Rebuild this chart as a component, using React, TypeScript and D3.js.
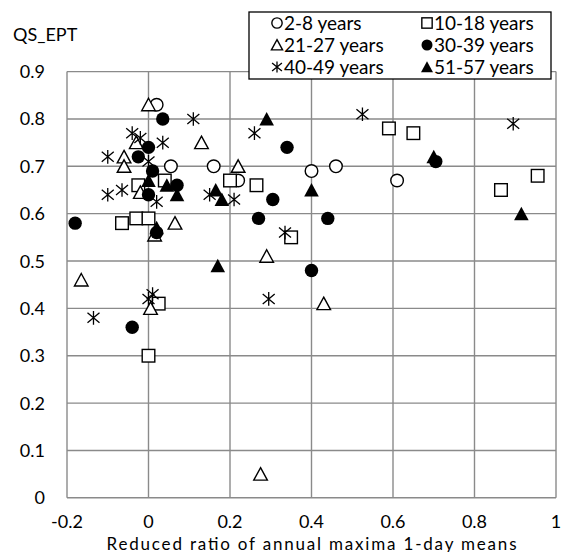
import React from 'react';
import * as d3 from 'd3';

const xTicks = [-0.2, 0, 0.2, 0.4, 0.6, 0.8, 1];
const xTickLabels = ['-0.2', '0', '0.2', '0.4', '0.6', '0.8', '1'];
const yTicks = [0, 0.1, 0.2, 0.3, 0.4, 0.5, 0.6, 0.7, 0.8, 0.9];
const yTickLabels = ['0', '0.1', '0.2', '0.3', '0.4', '0.5', '0.6', '0.7', '0.8', '0.9'];

const years2to8 = [
  [0.02, 0.83], [0.055, 0.70], [0.16, 0.70], [0.22, 0.67], [0.40, 0.69], [0.46, 0.70], [0.61, 0.67],
];
const years10to18 = [
  [-0.025, 0.66], [0.04, 0.67], [0.20, 0.67], [0.265, 0.66], [-0.065, 0.58], [-0.03, 0.59], [0.0, 0.59],
  [0.025, 0.41], [0.0, 0.30], [0.35, 0.55], [0.59, 0.78], [0.65, 0.77], [0.955, 0.68], [0.865, 0.65],
];
const years21to27 = [
  [0.0, 0.83], [-0.03, 0.75], [0.13, 0.75], [-0.06, 0.72], [-0.06, 0.70], [0.22, 0.70], [-0.02, 0.645],
  [0.015, 0.555], [0.065, 0.58], [-0.165, 0.46], [0.005, 0.40], [0.29, 0.51], [0.43, 0.41], [0.275, 0.05],
];
const years30to39 = [
  [0.035, 0.80], [0.0, 0.74], [-0.025, 0.72], [0.01, 0.69], [0.07, 0.66], [0.0, 0.64], [-0.18, 0.58],
  [0.02, 0.56], [-0.04, 0.36], [0.34, 0.74], [0.305, 0.63], [0.27, 0.59], [0.44, 0.59], [0.40, 0.48],
  [0.705, 0.71],
];
const years40to49 = [
  [0.11, 0.80], [-0.04, 0.77], [-0.02, 0.76], [0.035, 0.75], [-0.10, 0.72], [0.0, 0.71], [0.02, 0.625],
  [-0.10, 0.64], [-0.065, 0.65], [0.15, 0.64], [0.21, 0.63], [0.01, 0.43], [0.0, 0.42], [-0.135, 0.38],
  [0.26, 0.77], [0.525, 0.81], [0.335, 0.56], [0.295, 0.42], [0.895, 0.79],
];
const years51to57 = [
  [0.0, 0.67], [0.045, 0.66], [0.07, 0.64], [0.165, 0.65], [0.18, 0.63], [0.02, 0.57], [0.17, 0.49],
  [0.29, 0.80], [0.40, 0.65], [0.70, 0.72], [0.915, 0.60],
];

const seriesNames = ['2-8 years', '10-18 years', '21-27 years', '30-39 years', '40-49 years', '51-57 years'];
const seriesShapes = ['circleOpen', 'squareOpen', 'triangleOpen', 'circleFilled', 'star', 'triangleFilled'];
const seriesData = [years2to8, years10to18, years21to27, years30to39, years40to49, years51to57];

const FONT = 'Lato, "Open Sans", sans-serif';
const W = 562;
const H = 552;
const plot = { left: 67, right: 556, top: 71.6, bottom: 497.8 };

function Marker({ shape, x, y, s = 1 }: { shape: string; x: number; y: number; s?: number }) {
  const sw = 1.4;
  switch (shape) {
    case 'circleOpen':
      return <circle cx={x} cy={y} r={6.3 * s} fill="#fff" stroke="#000" strokeWidth={sw} />;
    case 'circleFilled':
      return <circle cx={x} cy={y} r={6.7 * s} fill="#000" />;
    case 'squareOpen':
      return <rect x={x - 6.3 * s} y={y - 6.3 * s} width={12.6 * s} height={12.6 * s} fill="#fff" stroke="#000" strokeWidth={sw} />;
    case 'triangleOpen':
      return (
        <path
          d={`M${x},${y - 6.5 * s} L${x + 6.8 * s},${y + 6 * s} L${x - 6.8 * s},${y + 6 * s} Z`}
          fill="#fff" stroke="#000" strokeWidth={sw} strokeLinejoin="miter"
        />
      );
    case 'triangleFilled':
      return <path d={`M${x},${y - 7 * s} L${x + 7.3 * s},${y + 6.5 * s} L${x - 7.3 * s},${y + 6.5 * s} Z`} fill="#000" />;
    case 'star':
      return (
        <path
          d={`M${x},${y - 6.8 * s} V${y + 6.8 * s} M${x - 6 * s},${y - 5 * s} L${x + 6 * s},${y + 5 * s} M${x + 6 * s},${y - 5 * s} L${x - 6 * s},${y + 5 * s}`}
          stroke="#000" strokeWidth={1.3} fill="none"
        />
      );
    default:
      return null;
  }
}

export default function App() {
  const x = d3.scaleLinear().domain([-0.2, 1]).range([plot.left, plot.right]);
  const y = d3.scaleLinear().domain([0, 0.9]).range([plot.bottom, plot.top]);
  const grid = '#8a8a8a';

  const legendX = 249;
  const legendY = 12;
  const legendW = 302;
  const legendH = 67;
  const colMarkerX = [277, 427];
  const rowY = [23, 45, 67];

  return (
    <svg width={W} height={H} style={{ position: 'absolute', left: 0, top: 0, background: '#fff' }} fontFamily={FONT}>
      <rect x={0} y={0} width={W} height={H} fill="#fff" />
      {yTicks.map((t) => (
        <line key={'gy' + t} x1={plot.left} x2={plot.right} y1={y(t)} y2={y(t)} stroke={grid} strokeWidth={1.4} />
      ))}
      {xTicks.map((t) => (
        <line key={'gx' + t} x1={x(t)} x2={x(t)} y1={plot.top} y2={plot.bottom} stroke={grid} strokeWidth={1.4} />
      ))}
      {yTicks.map((t, i) => (
        <text key={'ly' + t} x={45} y={y(t) + 6.5} textAnchor="end" fontSize={18} fill="#000">
          {yTickLabels[i]}
        </text>
      ))}
      {xTicks.map((t, i) => (
        <text key={'lx' + t} x={x(t)} y={528} textAnchor="middle" fontSize={18} fill="#000">
          {xTickLabels[i]}
        </text>
      ))}
      <text x={13} y={41} fontSize={18} fill="#000">QS_EPT</text>
      <text
        x={(plot.left + plot.right) / 2}
        y={549.5}
        textAnchor="middle"
        fontSize={17}
        textLength={410}
        lengthAdjust="spacing"
        fill="#000"
      >
        Reduced ratio of annual maxima 1-day means
      </text>
      {seriesData.map((data, si) => (
        <g key={'s' + si}>
          {data.map((d, i) => (
            <Marker key={i} shape={seriesShapes[si]} x={x(d[0])} y={y(d[1])} />
          ))}
        </g>
      ))}
      <rect x={legendX} y={legendY} width={legendW} height={legendH} fill="#fff" stroke="#000" strokeWidth={1.3} />
      {seriesNames.map((name, i) => {
        const col = i % 2;
        const row = Math.floor(i / 2);
        const mx = colMarkerX[col];
        const my = rowY[row];
        return (
          <g key={'lg' + i}>
            <Marker shape={seriesShapes[i]} x={mx} y={my} s={0.82} />
            <text x={mx + 7} y={my + 6.5} fontSize={19} fill="#000">{name}</text>
          </g>
        );
      })}
    </svg>
  );
}
